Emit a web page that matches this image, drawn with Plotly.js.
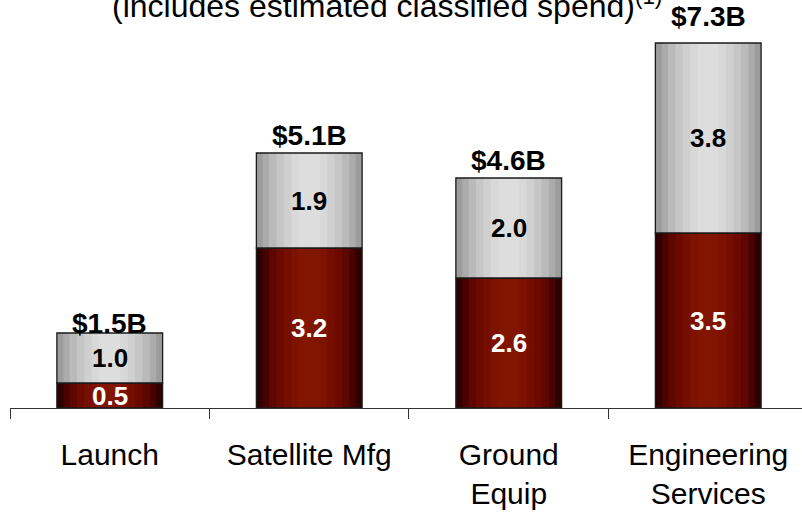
<!DOCTYPE html>
<html>
<head>
<meta charset="utf-8">
<script src="https://cdn.plot.ly/plotly-3.0.1.min.js"></script>
<style>html,body{margin:0;padding:0;background:#fff;}#chart{width:802px;height:513px;}</style>
</head>
<body>
<div id="chart"></div>
<script>
var categories = ["Launch", "Satellite Mfg", "Ground<br>Equip", "Engineering<br>Services"];
var unclassified = [0.5, 3.2, 2.6, 3.5];
var classified = [1.0, 1.9, 2.0, 3.8];
var totalLabels = ["$1.5B", "$5.1B", "$4.6B", "$7.3B"];
var titleText = "(includes estimated classified spend)<sup>(1)</sup>";

var xs = categories.map(function (c, i) { return i; });
var totals = unclassified.map(function (v, i) { return v + classified[i]; });
var zeros = unclassified.map(function () { return 0; });

var FONT = "Liberation Sans, Arial, sans-serif";
var fullW = 0.53;
var fracs = [1.0, 0.88, 0.76, 0.62, 0.48, 0.34, 0.2];
var redShades = ["#2e0000", "#480200", "#5e0600", "#6c0a00", "#760e00", "#7d1200", "#821500"];
var grayShades = ["#9c9c9c", "#ababab", "#bababa", "#c6c6c6", "#d0d0d0", "#d8d8d8", "#dddddd"];

var traces = [];
function addSegment(vals, bases, shades) {
  fracs.forEach(function (f, i) {
    traces.push({
      type: "bar", x: xs, y: vals, base: bases, width: fullW * f,
      marker: { color: shades[i], line: { width: 0 } },
      hoverinfo: "skip", showlegend: false
    });
  });
  traces.push({
    type: "bar", x: xs, y: vals, base: bases, width: fullW,
    marker: { color: "rgba(0,0,0,0)", line: { width: 1.3, color: "#1a1a1a" } },
    hoverinfo: "skip", showlegend: false
  });
}
addSegment(unclassified, zeros, redShades);
addSegment(classified, unclassified, grayShades);

var totalShift = [-8, 0, 0, 9];
var annotations = [];
var fmt = function (v) { return v.toFixed(1); };
xs.forEach(function (x, i) {
  annotations.push({ x: x, y: unclassified[i] / 2, xref: "x", yref: "y", text: "<b>" + fmt(unclassified[i]) + "</b>",
    showarrow: false, font: { family: FONT, size: 26, color: "#ffffff" } });
  annotations.push({ x: x, y: unclassified[i] + classified[i] / 2, xref: "x", yref: "y", text: "<b>" + fmt(classified[i]) + "</b>",
    showarrow: false, font: { family: FONT, size: 26, color: "#000000" } });
  annotations.push({ x: x, y: totals[i], xref: "x", yref: "y", text: "<b>" + totalLabels[i] + "</b>",
    showarrow: false, yanchor: "bottom", yshift: totalShift[i],
    font: { family: FONT, size: 28, color: "#000000" } });
});
annotations.push({ x: 0.126, y: 1, xref: "paper", yref: "paper", text: titleText, showarrow: false,
  xanchor: "left", yanchor: "bottom", yshift: -26,
  font: { family: FONT, size: 32, color: "#000000" } });

var layout = {
  width: 802, height: 513,
  margin: { l: 10, r: 0, t: 0, b: 105 },
  paper_bgcolor: "#ffffff", plot_bgcolor: "#ffffff",
  barmode: "overlay",
  showlegend: false,
  xaxis: {
    type: "linear", range: [-0.5, 3.47],
    tickmode: "array", tickvals: xs, ticktext: categories,
    showline: true, linecolor: "#333333", linewidth: 1,
    showgrid: false, zeroline: false, ticks: "",
    tickfont: { family: FONT, size: 30, color: "#000000" },
    ticklabelstandoff: 20
  },
  xaxis2: {
    overlaying: "x", matches: "x", type: "linear", range: [-0.5, 3.47],
    tickmode: "array", tickvals: [-0.5, 0.5, 1.5, 2.5, 3.5],
    ticks: "outside", ticklen: 10, tickcolor: "#333333", tickwidth: 1,
    showticklabels: false, showgrid: false, zeroline: false, showline: false,
    anchor: "y", side: "bottom"
  },
  yaxis: { range: [0, 8.16], visible: false, showgrid: false, zeroline: false },
  annotations: annotations
};
traces.push({ type: "scatter", x: [0], y: [0], xaxis: "x2", mode: "markers", marker: { opacity: 0 }, hoverinfo: "skip", showlegend: false });

Plotly.newPlot("chart", traces, layout, { displayModeBar: false, staticPlot: true });
</script>
</body>
</html>
